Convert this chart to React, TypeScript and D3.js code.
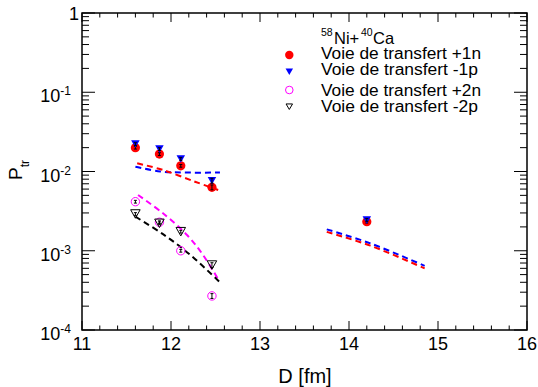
import React from "react";
import * as d3 from "d3";

const W = 538, H = 387;
const M = { left: 82, right: 527, top: 13, bottom: 330 };

const dExp = [11.6, 11.87, 12.11, 12.46, 14.2];
const p1n = [0.0200, 0.0166, 0.0118, 0.00632, 0.00233];
const m1p = [0.0222, 0.0192, 0.0144, 0.00766, 0.00245];
const dExp2 = [11.6, 11.87, 12.11, 12.46];
const p2n = [0.00416, 0.00229, 0.00100, 0.000269];
const m2p = [0.00291, 0.00222, 0.00174, 0.00066];
const errRel = [0.04, 0.04, 0.04, 0.07, 0.04];

const calc1nD = [11.62, 11.91, 12.27, 12.53];
const calc1nV = [0.0127, 0.01045, 0.00743, 0.00585];
const calc1pD = [11.6, 11.88, 12.18, 12.55];
const calc1pV = [0.0115, 0.0100, 0.0097, 0.0097];
const calc2nD = [11.63, 11.91, 12.18, 12.36, 12.54];
const calc2nV = [0.00505, 0.00297, 0.00158, 0.000884, 0.000419];
const calc2pD = [11.6, 11.91, 12.21, 12.54];
const calc2pV = [0.00269, 0.00162, 0.000900, 0.00041];
const farD = [13.75, 14.24, 14.85];
const far1pV = [0.00186, 0.00124, 0.000645];
const far1nV = [0.00173, 0.00116, 0.0006];

const xTicks = [11, 12, 13, 14, 15, 16];
const yTickExp = [0, -1, -2, -3, -4];

const legendLabels = [
  "Voie de transfert +1n",
  "Voie de transfert -1p",
  "Voie de transfert +2n",
  "Voie de transfert -2p",
];

const FONT = "'Liberation Sans', Arial, Helvetica, sans-serif";

export default function App() {
  const x = d3.scaleLinear().domain([11, 16]).range([M.left, M.right]);
  const y = d3.scaleLog().domain([1e-4, 1]).range([M.bottom, M.top]);

  const line = d3
    .line<[number, number]>()
    .x((d) => x(d[0]))
    .y((d) => y(d[1]))
    .curve(d3.curveCatmullRom.alpha(0.5));

  const zip = (a: number[], b: number[]) => a.map((v, i) => [v, b[i]] as [number, number]);

  const xMinor: number[] = [];
  for (let v = 11; v <= 16.0001; v += 0.2) xMinor.push(Math.round(v * 10) / 10);
  const yMinor: number[] = [];
  for (let e = -4; e < 0; e++) for (let k = 2; k <= 9; k++) yMinor.push(k * Math.pow(10, e));

  const tri = (cx: number, cy: number, w: number, h: number) =>
    `M${cx - w / 2},${cy - h / 2} L${cx + w / 2},${cy - h / 2} L${cx},${cy + h / 2} Z`;

  const errBar = (cx: number, v: number, r: number, key: string) => {
    const y1 = y(v * (1 + r));
    const y2 = y(v * (1 - r));
    return (
      <g key={key} stroke="#000" strokeWidth={1}>
        <line x1={cx} x2={cx} y1={y1} y2={y2} />
        <line x1={cx - 1.5} x2={cx + 1.5} y1={y1} y2={y1} />
        <line x1={cx - 1.5} x2={cx + 1.5} y1={y2} y2={y2} />
      </g>
    );
  };

  const dash = "6,4";

  return (
    <svg width={W} height={H} style={{ position: "absolute", left: 0, top: 0, background: "#fff" }} fontFamily={FONT}>
      {/* calc lines */}
      <path d={line(zip(calc1pD, calc1pV)) || ""} fill="none" stroke="#0000ff" strokeWidth={2} strokeDasharray={dash} />
      <path d={line(zip(calc1nD, calc1nV)) || ""} fill="none" stroke="#ff0000" strokeWidth={2} strokeDasharray={dash} />
      <path d={line(zip(calc2nD, calc2nV)) || ""} fill="none" stroke="#ff00ff" strokeWidth={2} strokeDasharray={dash} />
      <path d={line(zip(calc2pD, calc2pV)) || ""} fill="none" stroke="#000" strokeWidth={2} strokeDasharray={dash} />
      <path d={line(zip(farD, far1pV)) || ""} fill="none" stroke="#0000ff" strokeWidth={2} strokeDasharray={dash} />
      <path d={line(zip(farD, far1nV)) || ""} fill="none" stroke="#ff0000" strokeWidth={2} strokeDasharray={dash} />

      {/* data: +1n red circles */}
      {dExp.map((d, i) => (
        <circle key={"r" + i} cx={x(d)} cy={y(p1n[i])} r={4.6} fill="#ff0000" />
      ))}
      {dExp.map((d, i) => errBar(x(d), p1n[i], errRel[i], "er" + i))}
      {/* -1p blue triangles */}
      {dExp.map((d, i) => (
        <path key={"b" + i} d={tri(x(d), y(m1p[i]), 8.5, 7.5)} fill="#0000ff" />
      ))}
      {dExp.map((d, i) => errBar(x(d), m1p[i], errRel[i], "eb" + i))}
      {/* +2n magenta open circles */}
      {dExp2.map((d, i) => (
        <circle key={"m" + i} cx={x(d)} cy={y(p2n[i])} r={4.2} fill="none" stroke="#ff00ff" strokeWidth={1} />
      ))}
      {dExp2.map((d, i) => errBar(x(d), p2n[i], errRel[i], "em" + i))}
      {/* -2p black open triangles */}
      {dExp2.map((d, i) => (
        <path key={"k" + i} d={tri(x(d), y(m2p[i]), 9.5, 8.5)} fill="none" stroke="#000" strokeWidth={1} />
      ))}
      {dExp2.map((d, i) => errBar(x(d), m2p[i], errRel[i], "ek" + i))}

      {/* frame */}
      <rect x={M.left} y={M.top} width={M.right - M.left} height={M.bottom - M.top} fill="none" stroke="#000" strokeWidth={1.5} />

      {/* x ticks */}
      {xMinor.map((v, i) => {
        const major = Math.abs(v - Math.round(v)) < 1e-6;
        const len = major ? 9 : 4.5;
        return (
          <g key={"xt" + i} stroke="#000" strokeWidth={1}>
            <line x1={x(v)} x2={x(v)} y1={M.bottom} y2={M.bottom - len} />
            <line x1={x(v)} x2={x(v)} y1={M.top} y2={M.top + len} />
          </g>
        );
      })}
      {xTicks.map((v) => (
        <text key={"xl" + v} x={x(v)} y={350} fontSize={18} textAnchor="middle" fill="#000">
          {v}
        </text>
      ))}

      {/* y ticks */}
      {yMinor.map((v, i) => (
        <g key={"ym" + i} stroke="#000" strokeWidth={1}>
          <line x1={M.left} x2={M.left + 7} y1={y(v)} y2={y(v)} />
          <line x1={M.right} x2={M.right - 7} y1={y(v)} y2={y(v)} />
        </g>
      ))}
      {yTickExp.map((e) => (
        <g key={"yM" + e} stroke="#000" strokeWidth={1}>
          <line x1={M.left} x2={M.left + 13} y1={y(Math.pow(10, e))} y2={y(Math.pow(10, e))} />
          <line x1={M.right} x2={M.right - 13} y1={y(Math.pow(10, e))} y2={y(Math.pow(10, e))} />
        </g>
      ))}
      {yTickExp.map((e) =>
        e === 0 ? (
          <text key={"yl" + e} x={79} y={y(1) + 7} fontSize={18} textAnchor="end" fill="#000">
            1
          </text>
        ) : (
          <text key={"yl" + e} x={71} y={y(Math.pow(10, e)) + 10} fontSize={18} textAnchor="end" fill="#000">
            10
            <tspan fontSize={12} dy={-7}>
              {String(e)}
            </tspan>
          </text>
        )
      )}

      {/* axis titles */}
      <text x={305} y={383} fontSize={20} textAnchor="middle" fill="#000">
        D [fm]
      </text>
      <text transform="translate(22,180) rotate(-90)" fontSize={19} fill="#000">
        P
        <tspan fontSize={12} dy={7}>
          tr
        </tspan>
      </text>

      {/* legend */}
      <text x={321} y={36} fontSize={10.5} fill="#000">58</text>
      <text x={334} y={43.5} fontSize={16.5} fill="#000">Ni+</text>
      <text x={361} y={36} fontSize={10.5} fill="#000">40</text>
      <text x={373} y={43.5} fontSize={16.5} fill="#000">Ca</text>
      <circle cx={289.3} cy={55} r={4.2} fill="#ff0000" />
      <path d={tri(289.3, 71.7, 7.5, 6.5)} fill="#0000ff" />
      <circle cx={289.3} cy={90} r={3.8} fill="none" stroke="#ff00ff" strokeWidth={1} />
      <path d={tri(289.3, 106.7, 6.5, 5.5)} fill="none" stroke="#000" strokeWidth={1} />
      {legendLabels.map((t, i) => (
        <text
          key={"lg" + i}
          x={321}
          y={[58.5, 75, 95.5, 112][i]}
          fontSize={16}
          fill="#000"
          textLength={i === 2 ? 160 : i === 0 ? 160 : 157}
          lengthAdjust="spacingAndGlyphs"
        >
          {t}
        </text>
      ))}
    </svg>
  );
}
